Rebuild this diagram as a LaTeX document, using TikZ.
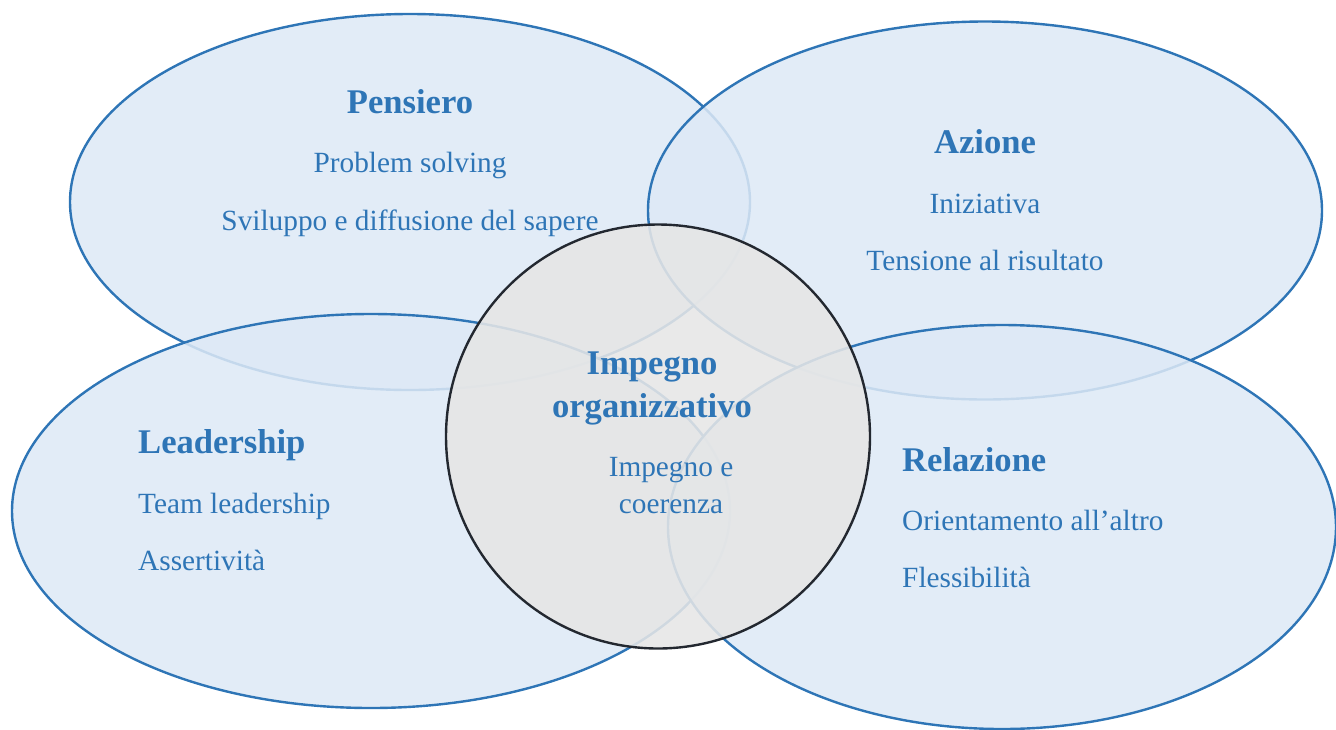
\documentclass[tikz,border=0pt]{standalone}
\usepackage{fontspec}
\setmainfont{Liberation Serif}
\usetikzlibrary{shapes.geometric}
\definecolor{ebord}{HTML}{2E75B6}
\definecolor{efill}{HTML}{DDE9F6}
\definecolor{cfill}{HTML}{E6E6E6}
\definecolor{cbord}{HTML}{232830}
\definecolor{tblue}{HTML}{2E75B6}
\tikzset{
  petal/.style={ellipse, draw=ebord, line width=2.4pt, fill=efill, fill opacity=0.86, draw opacity=1, inner sep=0pt, outer sep=0pt},
  core/.style={circle, draw=cbord, line width=2.4pt, fill=cfill, fill opacity=0.88, inner sep=0pt, minimum size=424pt},
  head/.style={text=tblue, font=\fontsize{34.6}{40}\selectfont\bfseries, inner sep=0pt, text opacity=1},
  item/.style={text=tblue, font=\fontsize{29.3}{36}\selectfont, inner sep=0pt, text opacity=1}
}
\begin{document}
\begin{tikzpicture}[x=1pt,y=-1pt]
\useasboundingbox (0,0) rectangle (1336,729);
\clip (0,0) rectangle (1336,729);
\node[petal, minimum width=680pt, minimum height=376pt] (pens) at (410,202) {};
\node[petal, minimum width=674pt, minimum height=378pt] (azio) at (985,210.5) {};
\node[petal, minimum width=718pt, minimum height=394pt] (lead) at (371,511) {};
\node[petal, minimum width=668pt, minimum height=404pt] (rela) at (1002,527) {};
\node[core] (imp) at (658,436.5) {};
% Pensiero
\node[head, anchor=base] (t1) at (410,113) {Pensiero};
\node[item, anchor=base] (t1a) at (410,172) {Problem solving};
\node[item, anchor=base] (t1b) at (410,230) {Sviluppo e diffusione del sapere};
% Azione
\node[head, anchor=base] (t2) at (985,153) {Azione};
\node[item, anchor=base] (t2a) at (985,213) {Iniziativa};
\node[item, anchor=base] (t2b) at (985,270) {Tensione al risultato};
% Leadership
\node[head, anchor=base west] (t3) at (138,453) {Leadership};
\node[item, anchor=base west] (t3a) at (138,513) {Team leadership};
\node[item, anchor=base west] (t3b) at (138,570) {Assertività};
% Relazione
\node[head, anchor=base west] (t4) at (902,471) {Relazione};
\node[item, anchor=base west] (t4a) at (902,530) {Orientamento all’altro};
\node[item, anchor=base west] (t4b) at (902,587) {Flessibilità};
% Centre
\node[head, anchor=base] (t5) at (652,374) {Impegno};
\node[head, anchor=base] (t5b) at (652,417) {organizzativo};
\node[item, anchor=base] (t5c) at (671,476) {Impegno e};
\node[item, anchor=base] (t5d) at (671,513) {coerenza};
\end{tikzpicture}
\end{document}
